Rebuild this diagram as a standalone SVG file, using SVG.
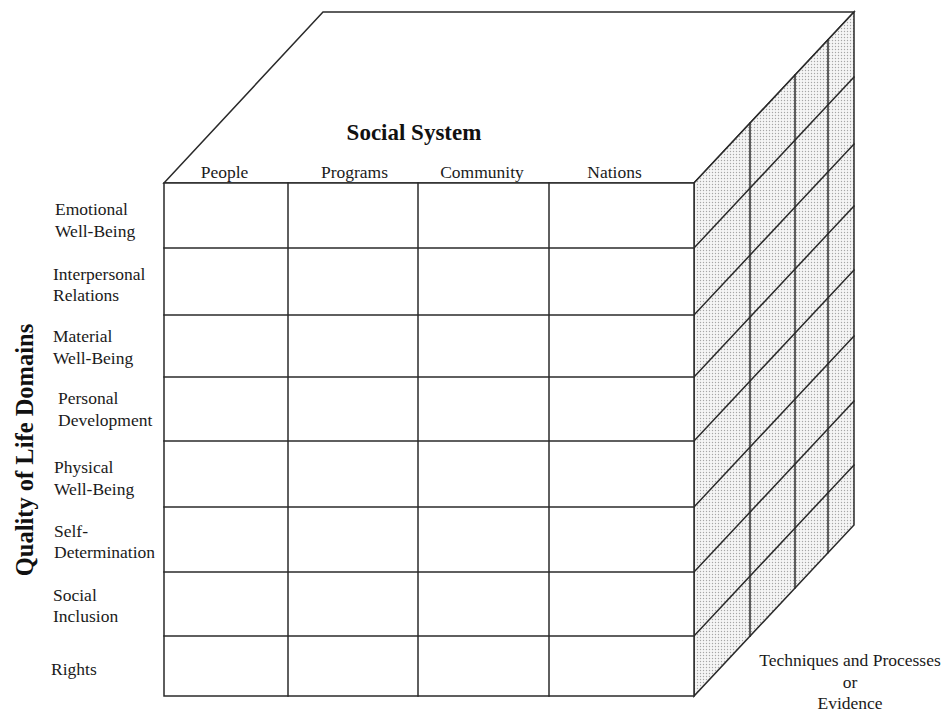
<svg xmlns="http://www.w3.org/2000/svg" width="947" height="714" viewBox="0 0 947 714">
<defs>
<pattern id="stipple" width="3" height="3" patternUnits="userSpaceOnUse">
<rect width="3" height="3" fill="#f5f5f5"/>
<circle cx="1.5" cy="1.5" r="0.7" fill="#a6a6a6"/>
</pattern>
</defs>
<style>
.ln{stroke:#2a2a2a;stroke-width:1.5;fill:none;stroke-linecap:square}
.shade{stroke:#2a2a2a;stroke-width:1.5;fill:url(#stipple)}
.face{stroke:#2a2a2a;stroke-width:1.5;fill:#fff}
.lbl{font-family:"Liberation Serif","Times New Roman",serif;font-size:17.5px;fill:#1a1a1a}
.ttl{font-family:"Liberation Serif","Times New Roman",serif;font-weight:bold;fill:#111}
.mid{text-anchor:middle}
</style>
<rect width="947" height="714" fill="#fff"/>
<g id="top-face">
<polygon points="164,183 323,12 854,12 694,183" class="face"/>
</g>
<g id="right-face">
<polygon points="694,183 854,12 854,525 694,696" class="shade"/>
<g class="ln">
<line x1="694" y1="248" x2="854" y2="77"/>
<line x1="694" y1="315" x2="854" y2="144"/>
<line x1="694" y1="377" x2="854" y2="206"/>
<line x1="694" y1="441" x2="854" y2="270"/>
<line x1="694" y1="507" x2="854" y2="336"/>
<line x1="694" y1="572" x2="854" y2="401"/>
<line x1="694" y1="636" x2="854" y2="465"/>
<line x1="750" y1="123.2" x2="750" y2="636.2"/>
<line x1="795" y1="75.1" x2="795" y2="588.1"/>
<line x1="828" y1="39.8" x2="828" y2="552.8"/>
</g>
</g>
<g id="front-face">
<rect x="164" y="183" width="530" height="513" class="face"/>
<g class="ln">
<line x1="288" y1="183" x2="288" y2="696"/>
<line x1="418" y1="183" x2="418" y2="696"/>
<line x1="549" y1="183" x2="549" y2="696"/>
<line x1="164" y1="248" x2="694" y2="248"/>
<line x1="164" y1="315" x2="694" y2="315"/>
<line x1="164" y1="377" x2="694" y2="377"/>
<line x1="164" y1="441" x2="694" y2="441"/>
<line x1="164" y1="507" x2="694" y2="507"/>
<line x1="164" y1="572" x2="694" y2="572"/>
<line x1="164" y1="636" x2="694" y2="636"/>
</g>
</g>
<g id="social-system">
<text class="ttl mid" x="414" y="140" font-size="23">Social System</text>
<text class="lbl mid" x="224.5" y="178">People</text>
<text class="lbl mid" x="354.5" y="178">Programs</text>
<text class="lbl mid" x="482" y="178">Community</text>
<text class="lbl mid" x="614.5" y="178">Nations</text>
</g>
<g id="domains">
<text class="ttl mid" font-size="24.5" transform="translate(33,450) rotate(-90)">Quality of Life Domains</text>
<text class="lbl" x="55" y="215">Emotional</text>
<text class="lbl" x="55" y="237">Well-Being</text>
<text class="lbl" x="53" y="280">Interpersonal</text>
<text class="lbl" x="53" y="301">Relations</text>
<text class="lbl" x="53" y="342">Material</text>
<text class="lbl" x="53" y="364">Well-Being</text>
<text class="lbl" x="58" y="404">Personal</text>
<text class="lbl" x="58" y="426">Development</text>
<text class="lbl" x="54" y="473">Physical</text>
<text class="lbl" x="54" y="495">Well-Being</text>
<text class="lbl" x="54" y="537">Self-</text>
<text class="lbl" x="54" y="558">Determination</text>
<text class="lbl" x="53" y="601">Social</text>
<text class="lbl" x="53" y="622">Inclusion</text>
<text class="lbl" x="51" y="675">Rights</text>
</g>
<g id="techniques">
<text class="lbl mid" x="850" y="666">Techniques and Processes</text>
<text class="lbl mid" x="850" y="688">or</text>
<text class="lbl mid" x="850" y="709">Evidence</text>
</g>
</svg>
